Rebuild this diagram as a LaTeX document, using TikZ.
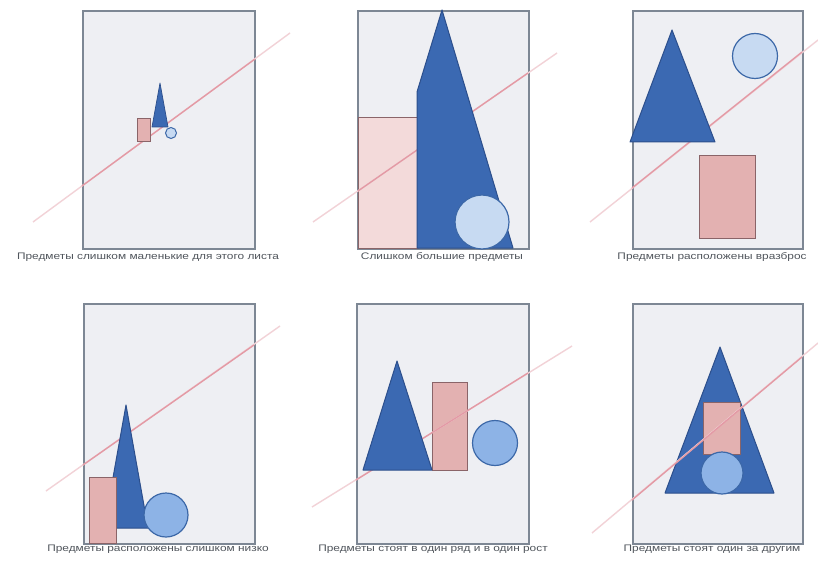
\documentclass[tikz,border=0pt]{standalone}
\usepackage{fontspec}
\setmainfont{Liberation Sans}
\definecolor{pbg}{HTML}{EEEFF3}
\definecolor{pframe}{HTML}{7D8794}
\definecolor{tfill}{HTML}{3B69B2}
\definecolor{tdraw}{HTML}{2C4F8C}
\definecolor{rfill}{HTML}{E3B1B1}
\definecolor{rfilll}{HTML}{F3DADA}
\definecolor{rdraw}{HTML}{8A6468}
\definecolor{cfill}{HTML}{C7DAF2}
\definecolor{cfillm}{HTML}{8DB3E6}
\definecolor{cdraw}{HTML}{3C68A8}
\definecolor{pline}{HTML}{E39AA5}
\definecolor{captc}{HTML}{50555C}
\tikzset{
  panel/.style={fill=pbg, draw=pframe, line width=2.2pt},
  tri/.style={fill=tfill, draw=tdraw, line width=1pt, line join=round},
  rectbox/.style={fill=rfill, draw=rdraw, line width=1.2pt},
  circ/.style={fill=cfill, draw=cdraw, line width=1.2pt},
  guide/.style={draw=pline, line width=1.4pt},
  guidefaint/.style={draw=pline!45, line width=1.4pt},
  capt/.style={font=\fontsize{9.5}{10}\selectfont, text=captc, inner sep=0pt, xscale=1.25}
}
\begin{document}
\begin{tikzpicture}[x=1pt,y=-1pt]
\useasboundingbox[fill=white] (0,0) rectangle (818,561);

% ---------- Panel 1 ----------
\node[panel, minimum width=172pt, minimum height=238pt, anchor=north west, inner sep=0pt] (p1) at (82,10) {};
\draw[guidefaint] (33,222) -- (290,33);
\draw[guide] (82,186) -- (255,59);
\node[rectbox, line width=0.9pt, minimum width=13pt, minimum height=23pt, inner sep=0pt] (r1) at (144,130) {};
\path[tri, line width=0.7pt] (160,83) -- (168,127) -- (152,127) -- cycle;
\node[circ, line width=1pt, fill=cfill, circle, minimum size=11pt, inner sep=0pt] (c1) at (171,133) {};
\node[capt] (t1) at (148,257) {Предметы слишком маленькие для этого листа};

% ---------- Panel 2 ----------
\node[panel, minimum width=171pt, minimum height=238pt, anchor=north west, inner sep=0pt] (p2) at (357,10) {};
\node[rectbox, fill=rfilll, minimum width=60pt, minimum height=131pt, anchor=north west, inner sep=0pt] (r2) at (358,117) {};
\draw[guidefaint] (313,222) -- (557,53);
\draw[guide] (358,191) -- (528,73);
\path[tri] (442,10) -- (513,248) -- (417,248) -- (417,92) -- cycle;
\node[circ, circle, minimum size=54pt, inner sep=0pt] (c2) at (482,222) {};
\node[capt] (t2) at (442,257) {Слишком большие предметы};

% ---------- Panel 3 ----------
\node[panel, minimum width=170pt, minimum height=238pt, anchor=north west, inner sep=0pt] (p3) at (632,10) {};
\node[rectbox, minimum width=56pt, minimum height=83pt, anchor=north west, inner sep=0pt] (r3) at (699,155) {};
\draw[guidefaint] (590,222) -- (818,40);
\draw[guide] (632,188) -- (802,52);
\path[tri] (672,30) -- (715,142) -- (630,142) -- cycle;
\node[circ, circle, minimum size=45pt, inner sep=0pt] (c3) at (755,56) {};
\node[capt] (t3) at (712,257) {Предметы расположены вразброс};

% ---------- Panel 4 ----------
\node[panel, minimum width=171pt, minimum height=240pt, anchor=north west, inner sep=0pt] (p4) at (83,303) {};
\draw[guidefaint] (46,491) -- (280,326);
\draw[guide] (83,465) -- (254,345);
\path[tri] (126,405) -- (148,528) -- (104,528) -- cycle;
\node[rectbox, minimum width=27pt, minimum height=66pt, anchor=north west, inner sep=0pt] (r4) at (89,477) {};
\node[circ, fill=cfillm, circle, minimum size=44pt, inner sep=0pt] (c4) at (166,515) {};
\node[capt] (t4) at (158,549) {Предметы расположены слишком низко};

% ---------- Panel 5 ----------
\node[panel, minimum width=172pt, minimum height=240pt, anchor=north west, inner sep=0pt] (p5) at (356,303) {};
\node[rectbox, minimum width=35pt, minimum height=88pt, anchor=north west, inner sep=0pt] (r5) at (432,382) {};
\draw[guidefaint] (312,507) -- (572,346);
\draw[guide] (356,480) -- (528,373);
\path[tri] (397,361) -- (432,470) -- (363,470) -- cycle;
\node[circ, fill=cfillm, circle, minimum size=45pt, inner sep=0pt] (c5) at (495,443) {};
\node[capt] (t5) at (433,549) {Предметы стоят в один ряд и в один рост};

% ---------- Panel 6 ----------
\node[panel, minimum width=170pt, minimum height=240pt, anchor=north west, inner sep=0pt] (p6) at (632,303) {};
\path[tri] (720,347) -- (774,493) -- (665,493) -- cycle;
\node[rectbox, minimum width=37pt, minimum height=52pt, anchor=north west, inner sep=0pt] (r6) at (703,402) {};
\draw[guidefaint] (592,533) -- (818,343);
\draw[guide] (632,500) -- (802,357);
\node[circ, fill=cfillm, circle, minimum size=42pt, inner sep=0pt] (c6) at (722,473) {};
\node[capt] (t6) at (712,549) {Предметы стоят один за другим};
\end{tikzpicture}
\end{document}
